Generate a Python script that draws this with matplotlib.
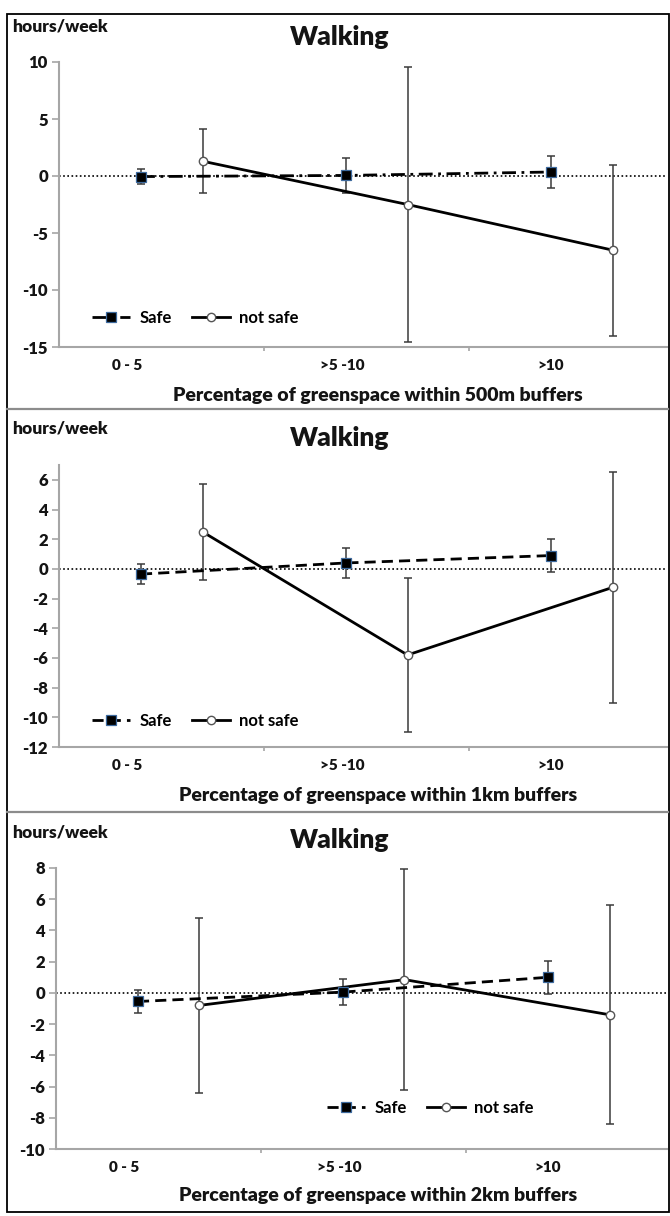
import matplotlib
matplotlib.use("Agg")
import matplotlib.pyplot as plt
from matplotlib.patches import Rectangle
from matplotlib.lines import Line2D

# walking change (hours/week) by greenspace category, safe vs not-safe perception
categories = ["0 - 5", ">5 -10", ">10"]
buffers = ["500m", "1km", "2km"]

safe_500 = [-0.05, 0.05, 0.35]
safe_500_err = [0.65, 1.5, 1.4]
unsafe_500 = [1.3, -2.5, -6.5]
unsafe_500_err = [2.8, 12.1, 7.5]

safe_1km = [-0.35, 0.4, 0.9]
safe_1km_err = [0.65, 1.0, 1.1]
unsafe_1km = [2.5, -5.8, -1.25]
unsafe_1km_err = [3.25, 5.2, 7.8]

safe_2km = [-0.55, 0.05, 1.0]
safe_2km_err = [0.75, 0.85, 1.05]
unsafe_2km = [-0.8, 0.85, -1.4]
unsafe_2km_err = [5.6, 7.1, 7.0]

plt.rcParams["font.family"] = ["Lato", "DejaVu Sans"]

W, H = 670, 1216
fig = plt.figure(figsize=(W / 100, H / 100), dpi=100)


def fx(px):
    return px / W


def fy(py):
    return 1 - py / H


TXT = "#141414"
GRID = "#a6a6a6"
BOLD = "heavy"

# pixel layout of each panel: axis left, top, bottom, y range, tick step, legend anchor, text rows
panels = [
    dict(left=59, top=62, bottom=347, ylim=(-15, 10), step=5, safe_ls=(0, (5, 2, 1, 2)),
         leg=(92, 318), hw=27, title=37, xl=395,
         safe=safe_500, safe_err=safe_500_err, unsafe=unsafe_500, unsafe_err=unsafe_500_err),
    dict(left=59, top=465, bottom=747, ylim=(-12, 7), step=2, safe_ls=(0, (4, 2.2)),
         leg=(92, 721), hw=428, title=438, xl=795,
         safe=safe_1km, safe_err=safe_1km_err, unsafe=unsafe_1km, unsafe_err=unsafe_1km_err),
    dict(left=56, top=868, bottom=1149, ylim=(-10, 8), step=2, safe_ls=(0, (4, 2.2)),
         leg=(327, 1108), hw=832, title=840, xl=1196,
         safe=safe_2km, safe_err=safe_2km_err, unsafe=unsafe_2km, unsafe_err=unsafe_2km_err),
]

right = 667
cat_w = 205.0
label_off = [0.33, 0.38, 0.40]

for p, buf in zip(panels, buffers):
    ax = fig.add_axes([fx(p["left"]), fy(p["bottom"]),
                       fx(right - p["left"]), (p["bottom"] - p["top"]) / H])
    ax.set_xlim(0, (right - p["left"]) / cat_w)
    ax.set_ylim(*p["ylim"])
    lo, hi = p["ylim"]
    yt = list(range(lo, hi + 1, p["step"]))
    ax.set_yticks(yt)
    ax.set_yticklabels([str(v) for v in yt])

    xs_safe = [i + 0.4 for i in range(len(categories))]
    xs_unsafe = [i + 0.7 for i in range(len(categories))]

    ax.axhline(0, color="black", linestyle=(0, (1, 1.5)), linewidth=1.2, zorder=1)

    ax.errorbar(xs_safe, p["safe"], yerr=p["safe_err"], fmt="none", ecolor="#3a3a3a",
                elinewidth=1.1, capsize=3, capthick=1.1, zorder=2)
    ax.errorbar(xs_unsafe, p["unsafe"], yerr=p["unsafe_err"], fmt="none", ecolor="#3a3a3a",
                elinewidth=1.1, capsize=3, capthick=1.1, zorder=2)

    h_safe, = ax.plot(xs_safe, p["safe"], color="black", linestyle=p["safe_ls"], linewidth=2,
                      marker="s", markersize=7.5, markerfacecolor="black",
                      markeredgecolor="#3d6a9e", markeredgewidth=0.9, zorder=4, label="Safe")
    h_unsafe, = ax.plot(xs_unsafe, p["unsafe"], color="black", linewidth=2,
                        marker="o", markersize=6, markerfacecolor="white",
                        markeredgecolor="#555555", markeredgewidth=1.0, zorder=3,
                        label="not safe")

    for s in ["top", "right"]:
        ax.spines[s].set_visible(False)
    for s in ["left", "bottom"]:
        ax.spines[s].set_color(GRID)
        ax.spines[s].set_linewidth(1.5)

    ax.set_xticks([i + o for i, o in enumerate(label_off)])
    ax.set_xticklabels(categories)
    ax.set_xticks([1, 2], minor=True)
    ax.tick_params(axis="x", which="major", length=0, pad=9, labelsize=11, labelcolor=TXT)
    ax.tick_params(axis="x", which="minor", length=3, color=GRID, width=1.2)
    ax.tick_params(axis="y", length=5, color=GRID, width=1.2, pad=3, labelsize=12,
                   labelcolor=TXT)
    for lab in ax.get_xticklabels() + ax.get_yticklabels():
        lab.set_fontweight(BOLD)

    ax.legend(handles=[h_safe, h_unsafe], loc="center left",
              bbox_to_anchor=(fx(p["leg"][0]), fy(p["leg"][1])), bbox_transform=fig.transFigure,
              ncol=2, frameon=False, handlelength=2.3, handletextpad=0.55, columnspacing=1.2,
              prop={"size": 12, "weight": "bold"}, borderaxespad=0, borderpad=0)

    fig.text(fx(12), fy(p["hw"]), "hours/week", fontsize=12.5, fontweight=BOLD,
             color=TXT, ha="left", va="center")
    fig.text(fx(340), fy(p["title"]), "Walking", fontsize=19, fontweight=BOLD,
             color=TXT, ha="center", va="center")
    fig.text(fx(378), fy(p["xl"]), "Percentage of greenspace within {} buffers".format(buf),
             fontsize=14, fontweight=BOLD, color=TXT, ha="center", va="center")

# separators between the three panels and the outer frame
for ys in [409, 812]:
    fig.add_artist(Line2D([fx(7), fx(668)], [fy(ys), fy(ys)], color="#8c8c8c", linewidth=1.6,
                          transform=fig.transFigure))
fig.add_artist(Rectangle((fx(6.5), fy(1211.5)), fx(662), (1211.5 - 13.5) / H,
                         transform=fig.transFigure, fill=False, edgecolor="black",
                         linewidth=1.3))

fig.savefig("out.png", dpi=100)
